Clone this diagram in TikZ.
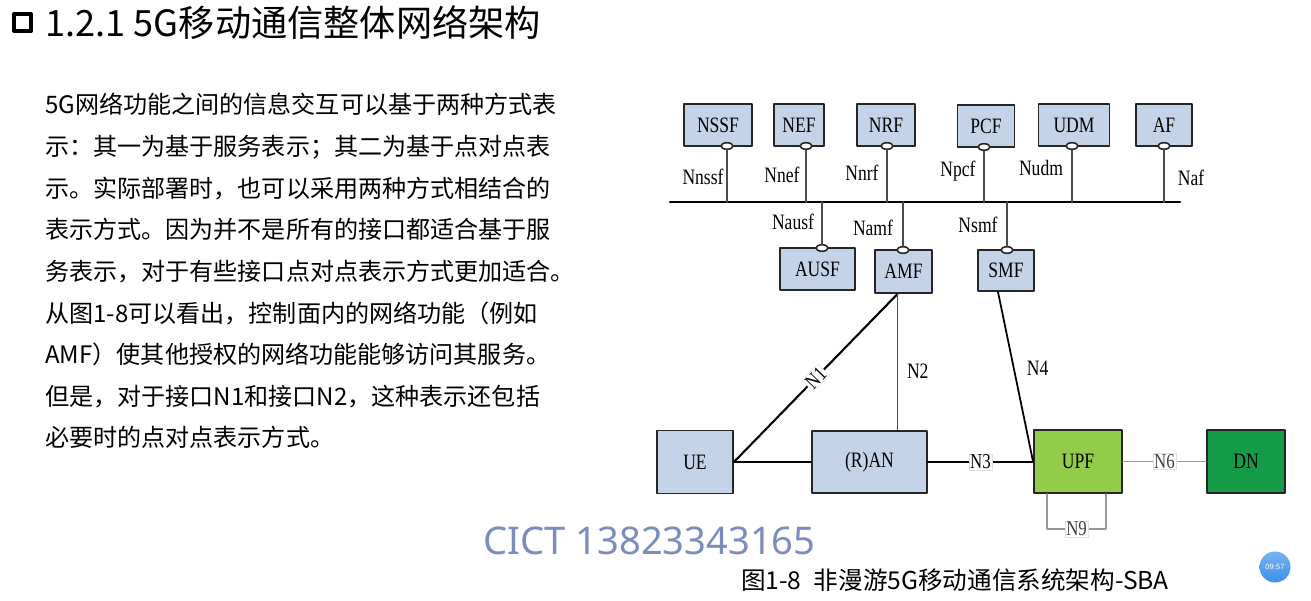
\documentclass[tikz,border=0pt]{standalone}
\usepackage{fontspec}
\setmainfont{Liberation Serif}
\newfontfamily\cjk{Noto Sans CJK SC}
\newfontfamily\wmfont{Noto Sans}
\newfontfamily\nfserif[FakeStretch=0.8]{Liberation Serif}
\usepackage{xcolor}
\usetikzlibrary{calc,positioning,shapes.geometric}
\definecolor{nfblue}{RGB}{197,211,232}
\definecolor{upfgreen}{RGB}{146,204,72}
\definecolor{dngreen}{RGB}{20,155,72}
\definecolor{wmblue}{RGB}{125,140,190}
\definecolor{clockblue}{RGB}{60,145,235}
\tikzset{
  nfbox/.style={draw=black!85, line width=1.1pt, fill=nfblue, inner sep=0pt, font=\nfserif\fontsize{12.5}{14}\selectfont},
  svc/.style={ellipse, draw=black!85, fill=white, line width=0.9pt, minimum width=0.24cm, minimum height=0.13cm, inner sep=0pt},
  ifname/.style={inner sep=1pt, text=black, font=\nfserif\fontsize{12.5}{14}\selectfont},
  reflbl/.style={fill=white, draw=black!12, line width=0.3pt, inner sep=0.6pt, text=black!75, font=\nfserif\fontsize{12}{14}\selectfont},
  bodytxt/.style={anchor=base west, inner sep=0pt, font=\cjk\fontsize{13.7}{16}\selectfont},
  bus/.style={line width=1.2pt, black},
  stub/.style={line width=0.9pt, black!70},
  link/.style={line width=1.2pt, black},
  thinlink/.style={line width=0.8pt, black!70},
  graylink/.style={line width=0.9pt, black!40},
  every picture/.style={line cap=round, line join=round}
}

\begin{document}
\begin{tikzpicture}[x=0.02cm, y=-0.02cm]
  \useasboundingbox[fill=white] (0,0) rectangle (1311,601);

  \node[draw, line width=2.3pt, minimum size=0.34cm, inner sep=0pt] (tsq) at (22.5,22.5) {};
  \node[anchor=west, inner sep=0pt, font=\cjk\fontsize{20.6}{23}\selectfont] (title) at (45,23) {1.2.1 5G移动通信整体网络架构};

  \foreach \t [count=\i] in {{5G网络功能之间的信息交互可以基于两种方式表},
      {示：其一为基于服务表示；其二为基于点对点表},
      {示。实际部署时，也可以采用两种方式相结合的},
      {表示方式。因为并不是所有的接口都适合基于服},
      {务表示，对于有些接口点对点表示方式更加适合。},
      {从图1-8可以看出，控制面内的网络功能（例如},
      {AMF）使其他授权的网络功能能够访问其服务。},
      {但是，对于接口N1和接口N2，这种表示还包括},
      {必要时的点对点表示方式。}}
    \node[bodytxt] (line\i) at (45,{114+41.6*(\i-1)}) {\t};

  \node[nfbox, minimum width=1.36cm, minimum height=0.84cm] (nssf) at (718,125) {NSSF};
  \node[nfbox, minimum width=1.0cm, minimum height=0.84cm] (nef) at (799,125) {NEF};
  \node[nfbox, minimum width=1.16cm, minimum height=0.84cm] (nrf) at (886,125) {NRF};
  \node[nfbox, minimum width=1.14cm, minimum height=0.84cm] (pcf) at (986,126) {PCF};
  \node[nfbox, minimum width=1.42cm, minimum height=0.84cm] (udm) at (1074,125) {UDM};
  \node[nfbox, minimum width=1.12cm, minimum height=0.84cm] (af) at (1164,125) {AF};

  \coordinate (busL) at (670,202);
  \coordinate (busR) at (1180,202);
  \draw[bus] (busL) -- (busR);

  \node[svc] (nssfo) at (727,146) {};
  \node[svc] (nefo) at (806,146) {};
  \node[svc] (nrfo) at (887,146) {};
  \node[svc] (pcfo) at (984,147) {};
  \node[svc] (udmo) at (1072,146) {};
  \node[svc] (afo) at (1164,146) {};
  \foreach \n in {nssf,nef,nrf,pcf,udm,af}
    \draw[stub] (\n o.south) -- (\n o.south |- busL);

  \node[ifname] (lnssf) at (703,177) {Nnssf};
  \node[ifname] (lnef) at (782,175) {Nnef};
  \node[ifname] (lnrf) at (862,173) {Nnrf};
  \node[ifname] (lnpcf) at (958,171) {Npcf};
  \node[ifname] (lnudm) at (1041,168) {Nudm};
  \node[ifname] (lnaf) at (1191,178) {Naf};

  \node[nfbox, minimum width=1.5cm, minimum height=0.84cm] (ausf) at (817.5,269) {AUSF};
  \node[nfbox, minimum width=1.14cm, minimum height=0.86cm] (amf) at (903.5,271.5) {AMF};
  \node[nfbox, minimum width=1.12cm, minimum height=0.82cm] (smf) at (1006,270.5) {SMF};

  \node[svc] (ausfo) at (822,248) {};
  \node[svc] (amfo) at (903,250) {};
  \node[svc] (smfo) at (1007,250) {};
  \foreach \n in {ausf,amf,smf}
    \draw[stub] (\n o.north) -- (\n o.north |- busL);

  \node[ifname] (lnausf) at (793,222) {Nausf};
  \node[ifname] (lnamf) at (873,228) {Namf};
  \node[ifname] (lnsmf) at (978,225) {Nsmf};

  \node[nfbox, minimum width=1.52cm, minimum height=1.26cm] (ue) at (695,462) {UE};
  \node[nfbox, minimum width=2.3cm, minimum height=1.24cm] (ran) at (869.5,462) {(R)AN};
  \node[nfbox, fill=upfgreen, minimum width=1.76cm, minimum height=1.26cm] (upf) at (1078,461.5) {UPF};
  \node[nfbox, fill=dngreen, minimum width=1.56cm, minimum height=1.26cm] (dn) at (1246,461.5) {DN};

  \coordinate (amfb) at ($(amf.south)+(-6,0)$);
  \coordinate (smfb) at ($(smf.south)+(-8,0)$);
  \coordinate (n9a) at ($(upf.south west)+(14,0)$);
  \coordinate (n9b) at ($(upf.south west)+(73,0)$);
  \coordinate (n9c) at ($(n9a)+(0,35)$);

  \draw[link] (ue.east) -- (ran.west);
  \draw[link] (ue.east) -- node[reflbl, sloped, text=black] (n1) {N1} (amfb);
  \draw[thinlink] (amfb) -- node[pos=0.57, right=4pt, ifname] (n2) {N2} (amfb |- ran.north);
  \draw[link] (ran.east) -- node[reflbl, text=black] (n3) {N3} (ran.east -| upf.west);
  \draw[link, line width=1pt] (smfb) -- node[pos=0.45, right=6pt, ifname] (n4) {N4} (upf.west);
  \draw[graylink] (upf.east) -- node[reflbl] (n6) {N6} (dn.west);
  \draw[graylink] (n9a) -- (n9c) -- node[reflbl] (n9) {N9} (n9c -| n9b) -- (n9b);

  \node[anchor=west, inner sep=0pt, text=wmblue, font=\wmfont\fontsize{21.7}{26}\selectfont] (wm) at (483,541) {CICT 13823343165};
  \node[inner sep=0pt, font=\cjk\fontsize{14}{16}\selectfont] (cap) at (955,580) {图1-8\enspace 非漫游5G移动通信系统架构-SBA};
  \node[circle, top color=clockblue!70!white, bottom color=clockblue, minimum size=0.62cm, inner sep=0pt, text=white, font=\sffamily\fontsize{4.5}{5}\selectfont] (clock) at (1275,567) {09:57};
\end{tikzpicture}
\end{document}
